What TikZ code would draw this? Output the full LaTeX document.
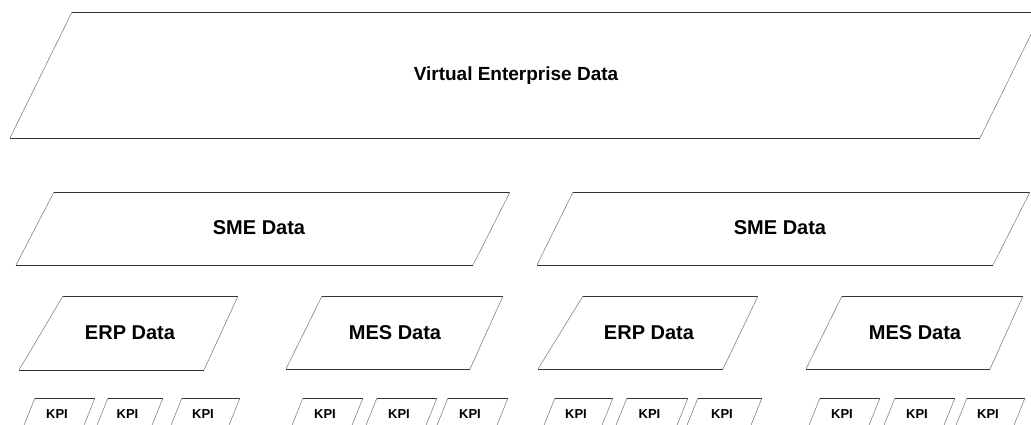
\documentclass[tikz,border=0pt]{standalone}
\usepackage{fontspec}
\setmainfont{Liberation Sans}
\tikzset{
  hedge/.style={draw=black!80, line width=0.7pt},
  sedge/.style={draw=black!55, line width=0.5pt},
  lbl/.style={font=\bfseries\fontsize{#1}{#1}\selectfont, inner sep=0pt, text=black},
}
% parallelogram: TLx, TRx, BRx, BLx, top y, bottom y
\newcommand\pgm[6]{%
  \draw[hedge] (#1,#5) -- (#2,#5);
  \draw[hedge] (#4,#6) -- (#3,#6);
  \draw[sedge] (#1,#5) -- (#4,#6);
  \draw[sedge] (#2,#5) -- (#3,#6);
}
\begin{document}
\begin{tikzpicture}[x=1pt,y=-1pt]
\useasboundingbox (0,0) rectangle (1031,425);
\clip (0,0) rectangle (1031,425);
% Virtual enterprise
\pgm{72}{1042}{980}{10}{12}{138}
\node[lbl=19] (ve) at (516,76) {Virtual Enterprise Data};
% SME
\pgm{54}{510}{473}{16}{192}{265}
\node[lbl=20] (sme1) at (259,228) {SME Data};
\pgm{573}{1030}{993}{537}{192}{265}
\node[lbl=20] (sme2) at (780,228) {SME Data};
% ERP / MES
\pgm{63}{238}{204}{19}{296}{370}
\node[lbl=20] (erp1) at (130,333) {ERP Data};
\pgm{322}{503}{470}{286}{296}{369}
\node[lbl=20] (mes1) at (395,333) {MES Data};
\pgm{583}{758}{723}{538}{296}{369}
\node[lbl=20] (erp2) at (649,333) {ERP Data};
\pgm{842}{1023}{990}{806}{296}{369}
\node[lbl=20] (mes2) at (915,333) {MES Data};
% KPI
\foreach \a/\b [count=\i] in {35/95,108/163,182/240,303/363,377/437,448/508,555/613,627/688,698/762,820/880,895/955,967/1025}{
  \pgm{\a}{\b}{\b-17}{\a-17}{398}{440}
  \node[lbl=13] (kpi\i) at ({(\a+\b)/2-8},414) {KPI};
}
\end{tikzpicture}
\end{document}
